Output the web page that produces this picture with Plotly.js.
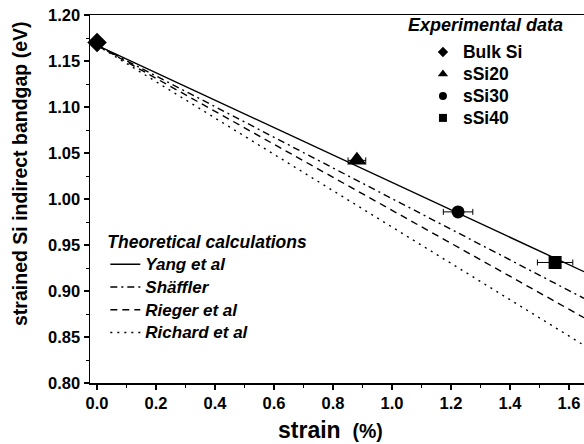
<!DOCTYPE html>
<html>
<head>
<meta charset="utf-8">
<script src="https://cdn.plot.ly/plotly-3.0.1.min.js"></script>
<style>html,body{margin:0;padding:0;background:#fff;}#chart{width:584px;height:444px;}</style>
</head>
<body>
<div id="chart"></div>
<script>
// Experimental data
const expNames = ["Bulk Si", "sSi20", "sSi30", "sSi40"];
const expStrain = [0.0, 0.881, 1.224, 1.553];
const expGap = [1.170, 1.042, 0.986, 0.931];
const expStrainErr = [0.0, 0.03, 0.05, 0.06];
const expSymbols = ["diamond", "triangle-up", "circle", "square"];

// Theoretical calculations (straight lines, start and end points)
const theoNames = ["Yang et al", "Shäffler", "Rieger et al", "Richard et al"];
const theoStrain = [0.0, 1.651];
const theoYang = [1.167, 0.921];
const theoShaffler = [1.167, 0.892];
const theoRieger = [1.167, 0.871];
const theoRichard = [1.167, 0.841];
const theoValues = [theoYang, theoShaffler, theoRieger, theoRichard];
const theoDash = ["solid", "7px,4px,2px,4px", "7px,5px", "2px,5px"];

const FONT = "Liberation Sans, Arial, sans-serif";
const traces = [];

theoNames.forEach((n, i) => {
  traces.push({
    type: "scatter", mode: "lines",
    name: "<span style='font-size:17px'>" + n + "</span>",
    x: theoStrain, y: theoValues[i],
    line: {color: "#000", width: 1.4, dash: theoDash[i]},
    legend: "legend2"
  });
});

const markerSizes = [15, 17, 13, 13];
expNames.forEach((n, i) => {
  const t = {
    type: "scatter", mode: "markers", name: n,
    x: [expStrain[i]], y: [expGap[i]],
    marker: {symbol: expSymbols[i], size: markerSizes[i], color: "#000"},
    showlegend: false, cliponaxis: false
  };
  if (expStrainErr[i] > 0) {
    t.error_x = {type: "data", array: [expStrainErr[i]], color: "#000", thickness: 1, width: 3};
  }
  traces.push(t);
});
// legend glyphs for the experimental data (small symbols, as in the key)
expNames.forEach((n, i) => {
  traces.push({
    type: "scatter", mode: "markers",
    name: "<span style='font-size:17.5px'>" + n + "</span>",
    x: [null], y: [null],
    marker: {symbol: expSymbols[i], size: i === 1 ? 9 : 8, color: "#000"},
    legend: "legend"
  });
});

const layout = {
  width: 584, height: 444,
  margin: {l: 90, r: 0, t: 15, b: 61},
  paper_bgcolor: "#fff", plot_bgcolor: "#fff",
  font: {family: FONT, color: "#000"},
  xaxis: {
    range: [-0.024, 1.651], showgrid: false, zeroline: false,
    showline: true, linecolor: "#000", linewidth: 1.5, mirror: true,
    ticks: "outside", ticklen: 5, tickwidth: 1.2, tickcolor: "#000",
    tick0: 0, dtick: 0.2, tickformat: ".1f",
    minor: {dtick: 0.1, ticks: "outside", ticklen: 3, tickcolor: "#000", tickwidth: 1},
    tickfont: {family: FONT, size: 16.5, weight: "bold", color: "#000"}
  },
  yaxis: {
    range: [0.80, 1.20], showgrid: false, zeroline: false,
    showline: true, linecolor: "#000", linewidth: 1.5,
    ticks: "outside", ticklen: 5, tickwidth: 1.2, tickcolor: "#000",
    tick0: 0.8, dtick: 0.05, tickformat: ".2f",
    minor: {dtick: 0.025, ticks: "outside", ticklen: 3, tickcolor: "#000", tickwidth: 1},
    tickfont: {family: FONT, size: 16.5, weight: "bold", color: "#000"}
  },
  legend: {
    x: 0.674, y: 0.943, xanchor: "left", yanchor: "top",
    bgcolor: "rgba(0,0,0,0)", borderwidth: 0,
    font: {family: FONT, size: 14.6, weight: "bold", color: "#000"},
    tracegroupgap: 0
  },
  legend2: {
    x: 0.031, y: 0.429, xanchor: "left", yanchor: "top",
    bgcolor: "rgba(0,0,0,0)", borderwidth: 0,
    font: {family: FONT, size: 15.2, weight: "bold", style: "italic", color: "#000"},
    title: {text: "Theoretical calculations", side: "top", font: {family: FONT, size: 17.5, weight: "bold", style: "italic", color: "#000"}},
    tracegroupgap: 0
  },
  annotations: [
    {
      text: "Experimental data", xref: "paper", yref: "paper",
      x: 0.64, y: 0.973, xanchor: "left", yanchor: "middle", showarrow: false,
      font: {family: FONT, size: 18, weight: "bold", style: "italic", color: "#000"}
    },
    {
      text: "strained Si indirect bandgap (eV)", xref: "paper", yref: "paper",
      x: -0.1417, y: 0.568, xanchor: "center", yanchor: "middle", textangle: -90, showarrow: false,
      font: {family: FONT, size: 19.5, weight: "bold", color: "#000"}
    },
    {
      text: "strain <span style='font-size:19.5px'> (%)</span>", xref: "paper", yref: "paper",
      x: 0.486, y: -0.1277, xanchor: "center", yanchor: "middle", showarrow: false,
      font: {family: FONT, size: 23, weight: "bold", color: "#000"}
    }
  ],
  showlegend: true
};

Plotly.newPlot("chart", traces, layout, {displayModeBar: false, staticPlot: true});
</script>
</body>
</html>
